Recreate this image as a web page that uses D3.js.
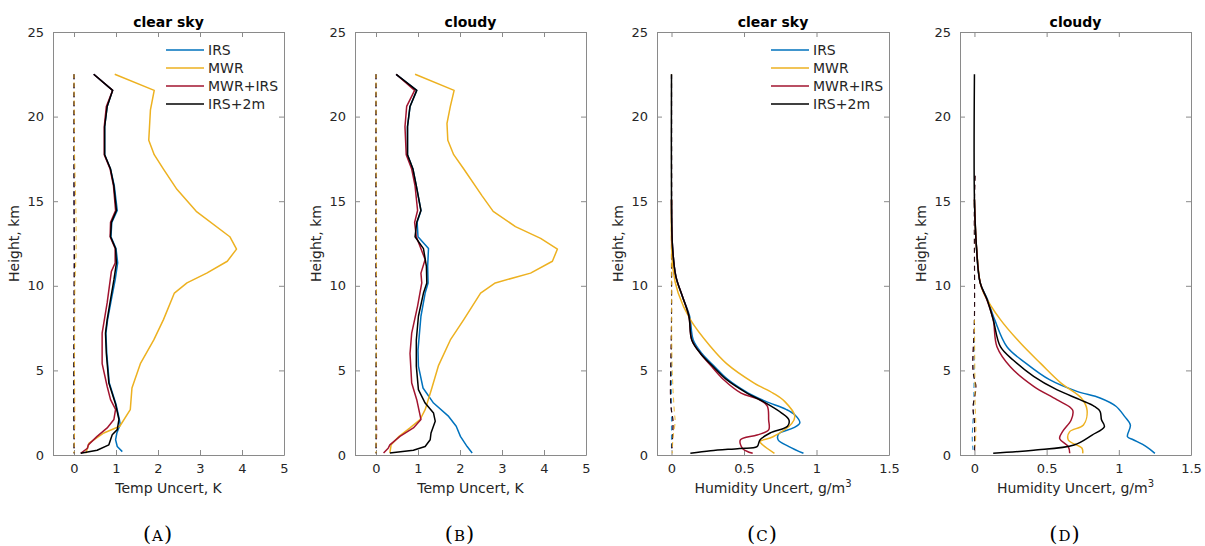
<!DOCTYPE html>
<html>
<head>
<meta charset="utf-8">
<script src="https://cdn.jsdelivr.net/npm/d3@7"></script>
<style>
  body { margin: 0; background: #fff; }
  svg text { font-family: "DejaVu Sans", sans-serif; }
</style>
</head>
<body>
<svg id="chart" width="1205" height="546"></svg>
<script>
// series names and colours
const seriesNames = ['IRS', 'MWR', 'MWR+IRS', 'IRS+2m'];
const seriesColors = ['#0072BD', '#EDB120', '#A2142F', '#000000'];

const heightTicks = [0, 5, 10, 15, 20, 25];
const tempTicks = [0, 1, 2, 3, 4, 5];
const humTicks = [0, 0.5, 1, 1.5];

// [uncertainty, height km]
// (A) temperature, clear sky
const tempClearIRS = [[0.47,22.5],[0.92,21.55],[0.79,20.6],[0.73,19.4],[0.73,17.75],[0.87,16.9],[0.96,15.9],[1.03,14.45],[0.9,13.75],[0.88,12.9],[1.0,12.2],[1.04,11.35],[0.98,10.35],[0.89,9.2],[0.8,8.0],[0.76,7.2],[0.78,6.0],[0.84,4.25],[1.0,3.0],[1.08,2.1],[1.1,1.8],[1.02,1.3],[0.99,0.9],[1.03,0.5],[1.15,0.2]];
const tempClearMWR = [[0.97,22.5],[1.91,21.55],[1.82,20.4],[1.78,18.6],[1.91,17.75],[2.13,16.9],[2.45,15.7],[2.91,14.4],[3.71,12.9],[3.87,12.17],[3.65,11.45],[3.16,10.75],[2.69,10.17],[2.39,9.57],[2.13,8.0],[1.9,6.8],[1.58,5.4],[1.38,3.96],[1.34,2.68],[1.09,1.7],[0.71,1.3],[0.36,0.7],[0.28,0.1]];
const tempClearMWRIRS = [[0.47,22.5],[0.92,21.55],[0.77,20.6],[0.72,19.4],[0.72,17.75],[0.86,16.9],[0.94,15.9],[0.99,14.45],[0.87,13.75],[0.86,12.9],[0.98,12.2],[0.98,11.35],[0.89,10.85],[0.79,9.0],[0.67,7.2],[0.67,5.4],[0.79,4.05],[0.87,3.27],[0.99,2.7],[0.95,2.1],[0.79,1.6],[0.55,1.1],[0.34,0.6],[0.32,0.4],[0.16,0.1]];
const tempClearIRS2m = [[0.47,22.5],[0.92,21.55],[0.79,20.6],[0.73,19.4],[0.73,17.75],[0.87,16.9],[0.95,15.9],[1.01,14.45],[0.89,13.75],[0.87,12.9],[0.99,12.2],[1.01,11.35],[0.95,10.35],[0.87,9.2],[0.79,8.0],[0.75,7.2],[0.77,6.0],[0.83,4.25],[0.99,3.0],[1.07,2.1],[1.03,1.5],[0.91,1.2],[0.83,0.6],[0.55,0.28],[0.16,0.1]];

// (B) temperature, cloudy
const tempCloudIRS = [[0.48,22.5],[0.97,21.55],[0.81,20.6],[0.75,19.4],[0.75,17.75],[0.88,16.9],[0.96,15.9],[1.07,14.45],[0.98,13.75],[1.0,12.9],[1.25,12.2],[1.23,11.15],[1.24,10.17],[1.17,9.57],[1.07,8.2],[1.0,6.2],[1.01,5.25],[1.12,3.96],[1.37,3.07],[1.73,2.28],[1.91,1.7],[2.01,1.1],[2.17,0.5],[2.29,0.12]];
const tempCloudMWR = [[0.93,22.5],[1.86,21.55],[1.77,20.6],[1.69,19.6],[1.71,18.6],[1.85,17.75],[2.09,16.9],[2.53,15.3],[2.79,14.4],[3.32,13.5],[3.92,12.8],[4.32,12.17],[4.2,11.45],[3.68,10.75],[2.84,10.17],[2.49,9.57],[2.09,8.0],[1.77,6.8],[1.49,5.3],[1.33,3.96],[1.17,2.68],[1.05,2.1],[0.81,1.6],[0.55,1.1],[0.36,0.6],[0.33,0.12]];
const tempCloudMWRIRS = [[0.48,22.5],[0.92,21.55],[0.73,20.6],[0.69,19.4],[0.72,17.75],[0.85,16.9],[0.93,15.9],[0.99,14.45],[0.92,13.75],[0.96,12.9],[1.17,11.55],[1.07,10.75],[1.09,10.17],[0.99,8.8],[0.85,7.2],[0.81,6.0],[0.85,4.25],[0.97,3.27],[1.07,2.1],[0.89,1.6],[0.57,1.1],[0.33,0.6],[0.29,0.4],[0.18,0.12]];
const tempCloudIRS2m = [[0.48,22.5],[0.97,21.55],[0.81,20.6],[0.75,19.4],[0.75,17.75],[0.88,16.9],[0.96,15.9],[1.07,14.45],[0.97,13.75],[0.93,12.9],[1.13,12.2],[1.2,11.15],[1.21,10.17],[1.13,9.57],[1.01,8.2],[0.96,6.8],[0.96,5.25],[1.01,3.86],[1.17,3.07],[1.37,2.48],[1.41,2.0],[1.31,1.3],[1.29,0.9],[1.17,0.5],[0.89,0.28],[0.33,0.12]];

// (C) humidity, clear sky
const humClearIRS = [[0,15.1],[0.007,12.3],[0.03,10.56],[0.075,9.38],[0.125,8.2],[0.15,6.8],[0.21,6.0],[0.3,5.2],[0.39,4.45],[0.53,3.66],[0.65,3.17],[0.79,2.7],[0.85,2.38],[0.885,1.9],[0.84,1.6],[0.74,1.25],[0.735,0.9],[0.81,0.5],[0.91,0.1]];
const humClearMWR = [[0,15.1],[0.01,11],[0.046,9.57],[0.13,8.0],[0.27,6.4],[0.38,5.4],[0.57,4.25],[0.7,3.66],[0.78,3.17],[0.85,2.3],[0.83,1.87],[0.7,1.08],[0.61,0.79],[0.63,0.59],[0.71,0.1]];
const humClearMWRIRS = [[0,15.1],[0.007,12.3],[0.03,10.56],[0.075,9.38],[0.12,8.2],[0.14,6.8],[0.2,6.0],[0.28,5.2],[0.36,4.45],[0.48,3.66],[0.6,3.3],[0.66,2.9],[0.67,2.07],[0.67,1.48],[0.59,1.18],[0.475,0.89],[0.49,0.39],[0.56,0.1]];
const humClearIRS2m = [[0,22.5],[0,15.1],[0.007,12.3],[0.03,10.56],[0.075,9.38],[0.12,8.2],[0.14,6.8],[0.2,6.0],[0.29,5.2],[0.38,4.45],[0.52,3.66],[0.63,3.17],[0.76,2.48],[0.81,2.07],[0.8,1.7],[0.68,1.3],[0.61,0.89],[0.59,0.49],[0.47,0.39],[0.27,0.25],[0.13,0.1]];

// (D) humidity, cloudy
const humCloudIRS = [[0,15.1],[0.014,12.3],[0.04,10.17],[0.09,9.2],[0.14,8.0],[0.225,6.4],[0.36,5.4],[0.52,4.45],[0.71,3.76],[0.87,3.37],[0.98,2.88],[1.04,2.28],[1.08,1.77],[1.06,1.08],[1.1,0.9],[1.19,0.5],[1.25,0.1]];
const humCloudMWR = [[0,15.1],[0.014,12.3],[0.04,10.17],[0.064,9.57],[0.18,8.0],[0.32,6.6],[0.46,5.4],[0.6,4.25],[0.74,3.37],[0.78,2.66],[0.755,1.77],[0.66,1.38],[0.65,0.89],[0.745,0.4],[0.75,0.1]];
const humCloudMWRIRS = [[0,15.1],[0.014,12.3],[0.04,10.17],[0.085,9.2],[0.13,8.0],[0.156,6.4],[0.25,5.2],[0.41,4.06],[0.57,3.27],[0.68,2.66],[0.67,2.07],[0.61,1.38],[0.59,0.98],[0.65,0.49],[0.66,0.1]];
const humCloudIRS2m = [[0,22.5],[0,15.1],[0.014,12.3],[0.04,10.17],[0.087,9.2],[0.13,8.0],[0.18,6.4],[0.27,5.6],[0.41,4.65],[0.57,3.86],[0.73,3.27],[0.83,2.88],[0.87,2.58],[0.88,2.08],[0.9,1.67],[0.815,1.18],[0.69,0.59],[0.41,0.28],[0.13,0.1]];

// dashed bias profiles near zero
const tempClearBias = [
  [[0,22.5],[0,15],[0.005,12],[0,5],[0.01,1],[0,0.1]],
  [[0,22.5],[0.01,18],[0.05,14],[0.05,12],[0.02,10],[0.01,5],[0.02,2],[0,0.1]],
  [[0,22.5],[0.005,12],[0,5],[0.01,1],[0,0.1]],
  [[0,22.5],[0,15],[0.01,11.5],[0,8],[-0.01,3],[0,0.1]]
];
const tempCloudBias = [
  [[0,22.5],[0,12],[0,3],[0,0.1]],
  [[0,22.5],[0.005,16],[0.01,12],[0.01,8],[0,4],[0,0.1]],
  [[0,22.5],[0,10],[0.01,6],[-0.01,3],[0.02,1.5],[0,0.1]],
  [[0,22.5],[0,12],[0.01,8],[0,4],[0,0.1]]
];
const humClearBias = [
  [[0,22.5],[0,5],[0,0.2]],
  [[0,22.5],[0,10],[0.005,5],[0.02,2.5],[0.025,2],[0.01,1],[0.005,0.1]],
  [[0,22.5],[0,8],[-0.005,3],[0.01,2],[0.005,0.5],[0.003,0.2]],
  [[0,22.5],[0,8],[-0.005,3],[0.01,2],[0,0.2]]
];
const humCloudBias = [
  [[0,8],[-0.005,3],[-0.01,2],[-0.015,1],[-0.01,0.3]],
  [[0,8],[0.005,3],[0.01,1.5],[0.005,0.5]],
  [[0.005,16.5],[0,15],[0,8],[-0.01,5],[0.01,4],[-0.01,2.8],[0,2],[0.002,0.1]],
  [[0.005,16.5],[0,15],[0,8],[-0.01,5],[0.01,4],[-0.01,2.8],[0,2],[0,0.1]]
];

const panels = [
  { left: 53, right: 284, title: 'clear sky', xDomain: [-0.5, 5], ticks: tempTicks, kind: 'temp', letter: 'A', legend: true,
    series: [tempClearIRS, tempClearMWR, tempClearMWRIRS, tempClearIRS2m], bias: tempClearBias },
  { left: 355, right: 586, title: 'cloudy', xDomain: [-0.5, 5], ticks: tempTicks, kind: 'temp', letter: 'B', legend: false,
    series: [tempCloudIRS, tempCloudMWR, tempCloudMWRIRS, tempCloudIRS2m], bias: tempCloudBias },
  { left: 657, right: 889, title: 'clear sky', xDomain: [-0.1, 1.5], ticks: humTicks, kind: 'hum', letter: 'C', legend: true,
    series: [humClearIRS, humClearMWR, humClearMWRIRS, humClearIRS2m], bias: humClearBias },
  { left: 960, right: 1191, title: 'cloudy', xDomain: [-0.1, 1.5], ticks: humTicks, kind: 'hum', letter: 'D', legend: false,
    series: [humCloudIRS, humCloudMWR, humCloudMWRIRS, humCloudIRS2m], bias: humCloudBias }
];

const plotTop = 32, plotBottom = 455;
const svg = d3.select('#chart');
const axisColor = '#8a8a8a';
const textColor = '#262626';

const y = d3.scaleLinear().domain([0, 25]).range([plotBottom, plotTop]);

// draw order for the dashed lines: orange last so it shows through
const biasOrder = [0, 2, 3, 1];

panels.forEach(p => {
  const x = d3.scaleLinear().domain(p.xDomain).range([p.left, p.right]);
  const g = svg.append('g');
  const fmt = d => d3.format('~g')(d);

  // axes, ticks pointing inward
  const xb = g.append('g').attr('transform', `translate(0,${plotBottom})`)
    .call(d3.axisBottom(x).tickValues(p.ticks).tickSizeInner(-5).tickSizeOuter(0).tickPadding(9).tickFormat(fmt));
  const xt = g.append('g').attr('transform', `translate(0,${plotTop})`)
    .call(d3.axisTop(x).tickValues(p.ticks).tickSizeInner(-5).tickSizeOuter(0).tickFormat(''));
  const yl = g.append('g').attr('transform', `translate(${p.left},0)`)
    .call(d3.axisLeft(y).tickValues(heightTicks).tickSizeInner(-5).tickSizeOuter(0).tickPadding(9));
  const yr = g.append('g').attr('transform', `translate(${p.right},0)`)
    .call(d3.axisRight(y).tickValues(heightTicks).tickSizeInner(-5).tickSizeOuter(0).tickFormat(''));

  [xb, xt, yl, yr].forEach(a => {
    a.select('.domain').attr('stroke', axisColor).attr('stroke-width', 1);
    a.selectAll('.tick line').attr('stroke', axisColor);
    a.selectAll('.tick text').attr('fill', textColor).style('font-size', '13px')
      .style('font-family', '"DejaVu Sans", sans-serif');
  });

  const clipId = 'clip-' + p.letter;
  g.append('clipPath').attr('id', clipId).append('rect')
    .attr('x', p.left).attr('y', plotTop).attr('width', p.right - p.left).attr('height', plotBottom - plotTop);

  const lineGen = d3.line()
    .x(d => x(d[0]))
    .y(d => y(d[1]))
    .curve(p.kind === 'hum' ? d3.curveCatmullRom.alpha(0.5) : d3.curveLinear);

  const plot = g.append('g').attr('clip-path', `url(#${clipId})`);

  // dashed bias lines underneath
  biasOrder.forEach(i => {
    plot.append('path').datum(p.bias[i])
      .attr('d', lineGen)
      .attr('fill', 'none')
      .attr('stroke', seriesColors[i])
      .attr('stroke-width', 1.1)
      .attr('stroke-dasharray', '5,4')
      .attr('stroke-dashoffset', i === 1 ? 1 : 0)
      .attr('opacity', 0.8);
  });

  p.series.forEach((s, i) => {
    plot.append('path').datum(s)
      .attr('d', lineGen)
      .attr('fill', 'none')
      .attr('stroke', seriesColors[i])
      .attr('stroke-width', 1.5)
      .attr('stroke-linejoin', 'round');
  });

  // title
  g.append('text')
    .attr('x', (p.left + p.right) / 2).attr('y', 27)
    .attr('text-anchor', 'middle')
    .style('font-size', '14px').style('font-weight', 'bold')
    .attr('fill', '#000')
    .text(p.title);

  // y label
  g.append('text')
    .attr('transform', `translate(${p.left - 34},${(plotTop + plotBottom) / 2}) rotate(-90)`)
    .attr('text-anchor', 'middle')
    .style('font-size', '14px')
    .attr('fill', textColor)
    .text('Height, km');

  // x label
  const xl = g.append('text')
    .attr('x', (p.left + p.right) / 2).attr('y', 493)
    .attr('text-anchor', 'middle')
    .style('font-size', '14px')
    .attr('fill', textColor);
  if (p.kind === 'temp') {
    xl.text('Temp Uncert, K');
  } else {
    xl.append('tspan').text('Humidity Uncert, g/m');
    xl.append('tspan').attr('dy', -6).style('font-size', '10px').text('3');
  }

  // caption, small-cap letter in parentheses
  const cap = svg.append('text')
    .attr('x', (p.left + p.right) / 2 - 11).attr('y', 541)
    .attr('text-anchor', 'middle')
    .style('font-family', '"DejaVu Serif", serif')
    .style('font-size', '21px')
    .attr('fill', '#000');
  cap.append('tspan').text('(');
  cap.append('tspan').style('font-size', '15px').attr('dx', 1).text(p.letter);
  cap.append('tspan').attr('dx', 1).text(')');

  // legend
  if (p.legend) {
    const lx = p.right - 118;
    const leg = g.append('g');
    seriesNames.forEach((name, i) => {
      const ly = 50 + i * 18;
      leg.append('line')
        .attr('x1', lx).attr('x2', lx + 38)
        .attr('y1', ly).attr('y2', ly)
        .attr('stroke', seriesColors[i]).attr('stroke-width', 1.5);
      leg.append('text')
        .attr('x', lx + 42).attr('y', ly + 5)
        .style('font-size', '14px')
        .attr('fill', textColor)
        .text(name);
    });
  }
});
</script>
</body>
</html>
